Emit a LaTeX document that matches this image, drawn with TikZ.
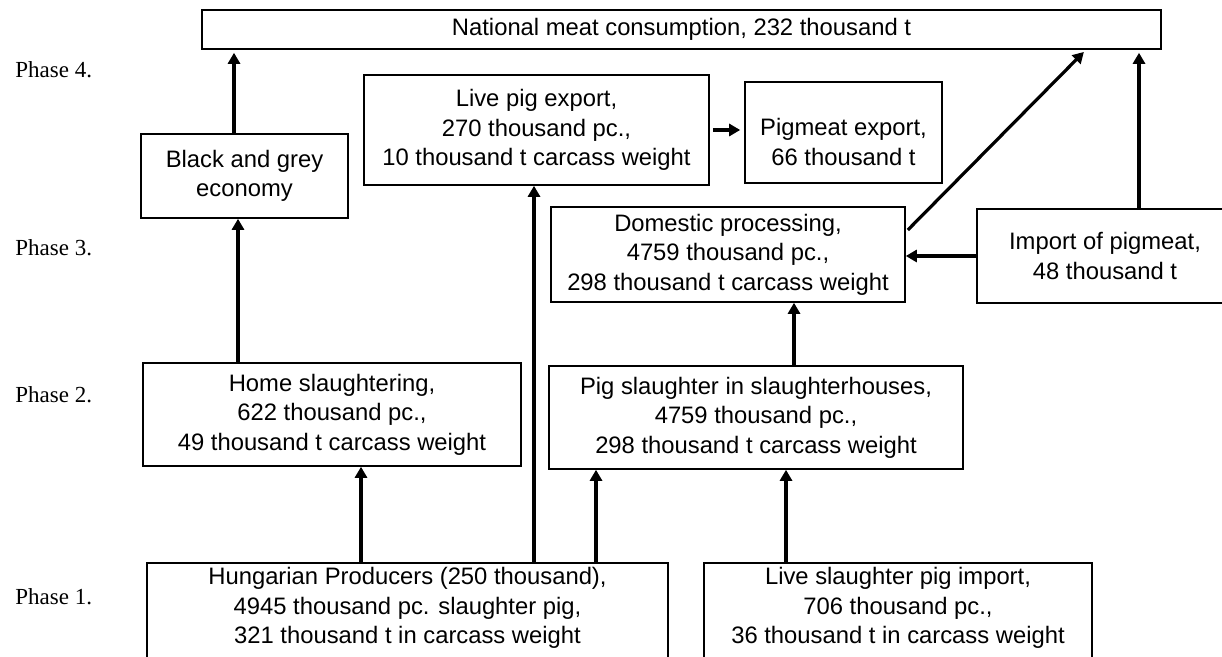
\documentclass[tikz,border=0pt]{standalone}
\usepackage{fontspec}
\setmainfont{Liberation Sans}
\newfontfamily\phasefont{Liberation Serif}
\usetikzlibrary{arrows.meta}

\begin{document}
\begin{tikzpicture}[
	x=0.5pt, y=-0.5pt,
	box/.style={
		draw, line width=0.8pt, rectangle, inner sep=2pt,
		font=\fontsize{11.9}{14.75}\selectfont, align=center
	},
	arr/.style={-{Triangle[length=5.5pt,width=6pt]}, line width=1.6pt},
	phase/.style={font=\phasefont\fontsize{11.5}{13}\selectfont, anchor=west, inner sep=0pt},
	]
	\useasboundingbox (0,0) rectangle (1222,657);
	\clip (0,0) rectangle (1222,657);
	
	\node[phase] (ph4) at (15,70)  {Phase 4.};
	\node[phase] (ph3) at (15,248) {Phase 3.};
	\node[phase] (ph2) at (15,395) {Phase 2.};
	\node[phase] (ph1) at (15,597) {Phase 1.};
	
	\node[box, minimum width=479.5pt, minimum height=19.5pt] (top) at (681.5,29.5) {National meat consumption, 232 thousand t};
	
	\node[box, minimum width=103.5pt, minimum height=42pt] (grey)    at (244.5,176) {Black and grey\\economy};
	\node[box, minimum width=172.5pt, minimum height=55pt] (liveexp) at (536.5,130) {Live pig export,\\270 thousand pc.,\\10 thousand t carcass weight};
	\node[box, minimum width=98.5pt, minimum height=50.5pt] (pigexp) at (843.5,132.5) {\rule{0pt}{18pt}Pigmeat export,\\66 thousand t};
	
	\node[box, minimum width=177pt, minimum height=47.5pt] (domestic) at (728,254.5) {Domestic processing,\\4759 thousand pc.,\\298 thousand t carcass weight};
	\node[box, minimum width=128pt, minimum height=47pt] (import) at (1105,256) {Import of pigmeat,\\48 thousand t};
	
	\node[box, minimum width=189pt, minimum height=51.5pt] (home) at (332,414.5) {Home slaughtering,\\622 thousand pc.,\\49 thousand t carcass weight};
	\node[box, minimum width=207pt, minimum height=51.5pt] (slaughter) at (756,417.5) {Pig slaughter in slaughterhouses,\\4759 thousand pc.,\\298 thousand t carcass weight};
	
	\node[box, minimum width=260.5pt, minimum height=60pt] (prod) at (407.5,623) {Hungarian Producers (250 thousand),\\4945 thousand pc. slaughter pig,\\321 thousand t in carcass weight\rule[-17.5pt]{0pt}{17.5pt}};
	\node[box, minimum width=194pt, minimum height=60pt] (liveimp) at (898,623) {Live slaughter pig import,\\706 thousand pc.,\\36 thousand t in carcass weight\rule[-17.5pt]{0pt}{17.5pt}};
	
	% phase 1 -> phase 2
	\draw[arr] ([xshift=14.5pt]home.south |- prod.north) -- ([xshift=14.5pt]home.south);
	\draw[arr] ([xshift=-1.25pt]liveexp.south |- prod.north) -- ([xshift=-1.25pt]liveexp.south);
	\draw[arr] ([xshift=-80pt]slaughter.south |- prod.north) -- ([xshift=-80pt]slaughter.south);
	\draw[arr] ([xshift=15pt]slaughter.south |- liveimp.north) -- ([xshift=15pt]slaughter.south);
	
	% phase 2 -> phase 3
	\draw[arr] ([xshift=-3.25pt]grey.south |- home.north) -- ([xshift=-3.25pt]grey.south);
	\draw[arr] ([xshift=33pt]domestic.south |- slaughter.north) -- ([xshift=33pt]domestic.south);
	\draw[arr, shorten <=1.5pt, shorten >=2pt] (liveexp.east) -- (liveexp.east -| pigexp.west);
	\draw[arr] (import.west) -- (import.west -| domestic.east);
	
	% phase 3 -> phase 4
	\draw[arr, shorten >=1.5pt] ([xshift=-5.25pt]grey.north) -- ([xshift=-5.25pt]grey.north |- top.south);
	\draw[arr, shorten >=1.5pt] ([xshift=1pt,yshift=12.25pt]domestic.east) -- ([xshift=202.25pt]top.south);
	\draw[arr, shorten >=1.5pt] ([xshift=17pt]import.north) -- ([xshift=17pt]import.north |- top.south);
	
\end{tikzpicture}
\end{document}
